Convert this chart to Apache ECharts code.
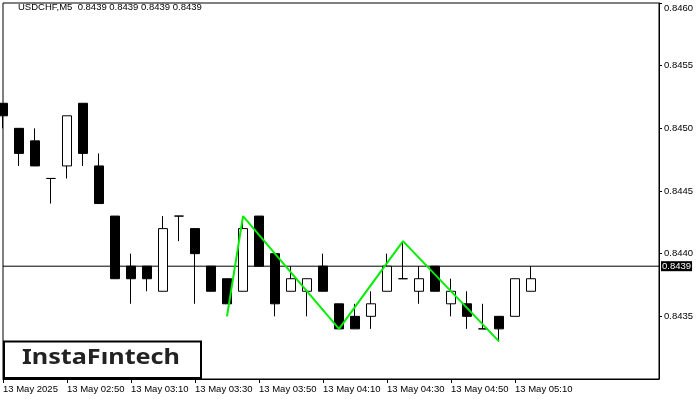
<!DOCTYPE html>
<html><head><meta charset="utf-8">
<script src="https://cdn.jsdelivr.net/npm/echarts@6/dist/echarts.min.js"></script>
<style>html,body{margin:0;padding:0;background:#fff}#c{width:700px;height:400px}</style>
</head><body><div id="c"></div>
<script>
// ---- data ----
const times = ['02:30','02:35','02:40','02:45','02:50','02:55','03:00','03:05','03:10','03:15',
  '03:20','03:25','03:30','03:35','03:40','03:45','03:50','03:55','04:00','04:05',
  '04:10','04:15','04:20','04:25','04:30','04:35','04:40','04:45','04:50','04:55',
  '05:00','05:05','05:10','05:15'];
const opens  = [0.8452,0.8450,0.8449,0.8446,0.8447,0.8452,0.8447,0.8443,0.8439,0.8439,
  0.8437,0.8443,0.8442,0.8439,0.8438,0.8437,0.8443,0.8440,0.8437,0.8437,
  0.8439,0.8436,0.8435,0.8435,0.8437,0.8438,0.8437,0.8439,0.8436,0.8436,
  0.8434,0.8435,0.8435,0.8437];
const closes = [0.8451,0.8448,0.8447,0.8446,0.8451,0.8448,0.8444,0.8438,0.8438,0.8438,
  0.8442,0.8443,0.8440,0.8437,0.8436,0.8442,0.8439,0.8436,0.8438,0.8438,
  0.8437,0.8434,0.8434,0.8436,0.8439,0.8438,0.8438,0.8437,0.8437,0.8435,
  0.8434,0.8434,0.8438,0.8438];
const lows   = [0.8450,0.8447,0.8447,0.8444,0.8446,0.8447,0.8444,0.8438,0.8436,0.8437,
  0.8437,0.8441,0.8436,0.8437,0.8436,0.8437,0.8439,0.8435,0.8437,0.8435,
  0.8437,0.8434,0.8434,0.8434,0.8437,0.8438,0.8436,0.8437,0.8435,0.8434,
  0.8434,0.8433,0.8435,0.8437];
const highs  = [0.8452,0.8450,0.8450,0.8446,0.8451,0.8452,0.8448,0.8443,0.8440,0.8439,
  0.8443,0.8443,0.8442,0.8439,0.8438,0.8443,0.8443,0.8440,0.8439,0.8438,
  0.8440,0.8436,0.8436,0.8437,0.8440,0.8441,0.8439,0.8439,0.8438,0.8437,
  0.8436,0.8435,0.8438,0.8439];
const patternIdx = [14, 15, 21, 25, 31];
const patternVal = [0.8435, 0.8443, 0.8434, 0.8441, 0.8433];
const lastPrice = 0.8439;
const futureSlots = 8;
const dateLabel = '13 May 2025';
const dayPrefix = '13 May ';
const titleText = 'USDCHF,M5  0.8439 0.8439 0.8439 0.8439';
const logoText = 'InstaF\u0131ntech';

// ---- build ----
const xCats = times.concat(new Array(futureSlots).fill(''));
const candles = opens.map((o, i) => [o, closes[i], lows[i], highs[i]]);
const pattern = patternIdx.map((k, i) => [k, patternVal[i]]);
const priceLine = [[0, lastPrice], [xCats.length - 1, lastPrice]];
const showTick = (idx) => idx % 4 === 0 && idx < times.length;
const FONT = '"Liberation Sans", Arial, sans-serif';

const logoFont = 'bold 21px "Noto Sans", sans-serif';
const mctx = document.createElement('canvas').getContext('2d');
mctx.font = logoFont;
const logoScale = 158 / mctx.measureText(logoText).width;

const chart = echarts.init(document.getElementById('c'), null, {renderer: 'canvas'});
chart.setOption({
  animation: false,
  backgroundColor: '#fff',
  title: {
    text: titleText, left: 18, top: 2, padding: 0,
    textStyle: {fontSize: 9.5, fontWeight: 'normal', color: '#000', fontFamily: FONT}
  },
  grid: {left: 3, right: 41, top: 3, bottom: 21, show: true, borderColor: '#000', borderWidth: 1,
    backgroundColor: 'transparent', containLabel: false, outerBoundsMode: 'none'},
  xAxis: {
    type: 'category', data: xCats, boundaryGap: false,
    axisLine: {show: true, lineStyle: {color: '#000', width: 1}},
    axisTick: {show: true, length: 4, interval: (i) => showTick(i), lineStyle: {color: '#000'}},
    axisLabel: {
      interval: (i) => showTick(i), align: 'left', margin: 5,
      fontSize: 9.5, color: '#000', fontFamily: FONT,
      formatter: (v, i) => (i === 0 ? dateLabel : dayPrefix + v)
    },
    splitLine: {show: false}
  },
  yAxis: {
    type: 'value', position: 'right', min: 0.8430, max: 0.8460, interval: 0.0005, scale: true,
    axisLine: {show: true, lineStyle: {color: '#000', width: 1}},
    axisTick: {show: true, length: 3, lineStyle: {color: '#000'}},
    axisLabel: {
      showMinLabel: false, margin: 5, fontSize: 9.5, color: '#000', fontFamily: FONT,
      verticalAlignMaxLabel: 'top',
      formatter: (v) => v.toFixed(4)
    },
    splitLine: {show: false}
  },
  series: [
    {
      type: 'line', data: priceLine, z: 1, symbol: 'none', silent: true, clip: false,
      lineStyle: {color: '#000', width: 1},
      endLabel: {
        show: true, distance: 2, formatter: () => lastPrice.toFixed(4),
        backgroundColor: '#000', color: '#fff', padding: [0, 1, 0, 1],
        fontSize: 9.5, lineHeight: 10, fontFamily: FONT
      }
    },
    {
      type: 'candlestick', data: candles, z: 3, barWidth: 10,
      itemStyle: {color: '#fff', color0: '#000', borderColor: '#000', borderColor0: '#000', borderWidth: 1}
    },
    {
      type: 'line', data: pattern, z: 5, symbol: 'none', silent: true,
      lineStyle: {color: '#00ee00', width: 2}
    }
  ],
  graphic: [
    {
      type: 'rect', z: 100,
      shape: {x: 4, y: 341.5, width: 197, height: 36.5},
      style: {fill: '#fff', stroke: '#000', lineWidth: 2}
    },
    {
      type: 'text', z: 101, x: 101, y: 358, scaleX: logoScale, scaleY: 1,
      style: {text: logoText, font: logoFont, fill: '#222', align: 'center', verticalAlign: 'middle'}
    }
  ]
});
</script></body></html>
